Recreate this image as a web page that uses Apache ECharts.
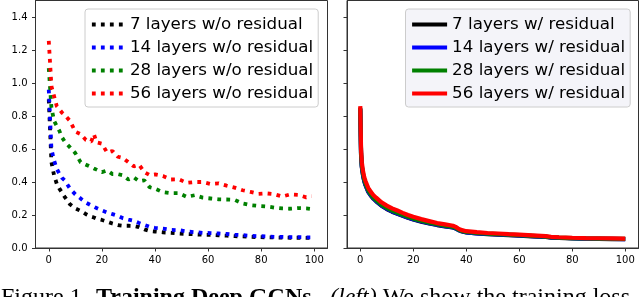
<!DOCTYPE html>
<html>
<head>
<meta charset="utf-8">
<script src="https://cdn.jsdelivr.net/npm/echarts@6/dist/echarts.min.js"></script>
<style>html,body{margin:0;padding:0;background:#fff;}#c{width:640px;height:297px;}</style>
</head>
<body>
<div id="c"></div>
<script>
// ---- Data ----
const xTicks = [0, 20, 40, 60, 80, 100];
const yTicks = [0.0, 0.2, 0.4, 0.6, 0.8, 1.0, 1.2, 1.4];

// Left panel (w/o residual), epochs
const leftEpochs = [0,1,2,3,4,5,6,8,10,12,14,16,17,18,20,22,24,26,28,30,32,34,36,38,40,43,46,49,52,55,58,61,64,67,70,73,76,79,82,85,88,91,94,97,99];
const noRes7  = [0.90,0.52,0.44,0.39,0.36,0.335,0.31,0.265,0.24,0.225,0.205,0.19,0.185,0.178,0.17,0.16,0.148,0.139,0.135,0.135,0.134,0.127,0.113,0.103,0.10,0.095,0.092,0.088,0.085,0.083,0.08,0.08,0.077,0.075,0.072,0.07,0.068,0.066,0.065,0.064,0.063,0.062,0.062,0.061,0.061];
const noRes14 = [0.96,0.60,0.53,0.48,0.45,0.425,0.41,0.36,0.325,0.30,0.275,0.258,0.25,0.242,0.228,0.215,0.205,0.195,0.18,0.172,0.165,0.152,0.14,0.128,0.122,0.118,0.11,0.108,0.10,0.096,0.092,0.09,0.088,0.085,0.08,0.078,0.074,0.072,0.07,0.068,0.067,0.066,0.066,0.065,0.065];
const noRes28 = [1.09,0.85,0.77,0.74,0.71,0.67,0.645,0.61,0.575,0.52,0.505,0.49,0.482,0.475,0.46,0.47,0.448,0.448,0.44,0.415,0.428,0.405,0.41,0.368,0.36,0.338,0.332,0.332,0.31,0.32,0.305,0.30,0.295,0.294,0.292,0.27,0.26,0.255,0.252,0.245,0.24,0.238,0.242,0.24,0.236];
const noRes56 = [1.255,0.98,0.92,0.86,0.84,0.82,0.806,0.77,0.705,0.69,0.655,0.645,0.69,0.64,0.632,0.578,0.588,0.553,0.545,0.52,0.495,0.505,0.46,0.442,0.446,0.436,0.415,0.416,0.395,0.40,0.40,0.388,0.392,0.378,0.366,0.35,0.34,0.328,0.331,0.326,0.312,0.325,0.322,0.307,0.315];

// Right panel (w/ residual), epochs
const rightEpochs = [0,0.3,0.6,1,1.5,2,3,4,5,6,8,10,12,14,16,18,20,23,26,29,32,35,36,37,38,40,44,48,52,56,60,65,70,72,75,80,85,90,95,100];
const res7  = [0.84,0.565,0.49,0.445,0.405,0.38,0.341,0.317,0.298,0.283,0.256,0.236,0.22,0.207,0.195,0.183,0.173,0.16,0.149,0.139,0.131,0.124,0.118,0.109,0.102,0.094,0.088,0.084,0.081,0.078,0.075,0.071,0.067,0.063,0.061,0.058,0.056,0.055,0.054,0.053];
const res14 = [0.845,0.57,0.492,0.447,0.407,0.382,0.343,0.319,0.3,0.285,0.258,0.238,0.222,0.209,0.197,0.185,0.175,0.162,0.151,0.141,0.133,0.125,0.119,0.11,0.103,0.095,0.089,0.085,0.082,0.079,0.076,0.072,0.068,0.064,0.062,0.059,0.057,0.056,0.055,0.054];
const res28 = [0.85,0.58,0.50,0.455,0.415,0.39,0.35,0.325,0.305,0.29,0.263,0.243,0.227,0.214,0.201,0.189,0.178,0.165,0.154,0.144,0.136,0.128,0.122,0.112,0.105,0.097,0.091,0.087,0.084,0.081,0.078,0.074,0.069,0.065,0.063,0.06,0.058,0.057,0.056,0.055];
const res56 = [0.86,0.60,0.52,0.47,0.43,0.405,0.365,0.34,0.32,0.305,0.277,0.257,0.24,0.227,0.213,0.2,0.189,0.175,0.163,0.151,0.143,0.135,0.128,0.118,0.11,0.102,0.096,0.091,0.088,0.084,0.081,0.077,0.072,0.068,0.065,0.062,0.06,0.059,0.058,0.057];

const leftNames  = ['7 layers w/o residual','14 layers w/o residual','28 layers w/o residual','56 layers w/o residual'];
const rightNames = ['7 layers w/ residual','14 layers w/ residual','28 layers w/ residual','56 layers w/ residual'];
const colors = ['#000000','#0000ff','#008000','#ff0000'];

// ---- Chart ----
const FONT = 'DejaVu Sans';
const chart = echarts.init(document.getElementById('c'), null, {renderer: 'canvas'});
const pair = (xs, ys) => xs.map((x, i) => [x, ys[i]]);

function xAxis(gi) {
  return {
    type: 'value', gridIndex: gi, min: -5, max: 105,
    axisLine: {show: true, onZero: false, lineStyle: {color: '#333', width: 1}},
    axisTick: {show: true, length: 3.5, customValues: xTicks, lineStyle: {color: '#333'}},
    axisLabel: {show: true, customValues: xTicks, margin: 7, fontSize: 10, fontFamily: FONT, color: '#000'},
    splitLine: {show: false}
  };
}
function yAxis(gi, showLabels) {
  return {
    type: 'value', gridIndex: gi, min: 0, max: 1.5,
    axisLine: {show: true, onZero: false, lineStyle: {color: '#333', width: 1}},
    axisTick: {show: true, length: 3.5, customValues: yTicks, lineStyle: {color: '#333'}},
    axisLabel: {show: showLabels, customValues: yTicks, margin: 8, fontSize: 10, fontFamily: FONT, color: '#000',
      formatter: v => v.toFixed(1)},
    splitLine: {show: false}
  };
}

const leftVals = [noRes7, noRes14, noRes28, noRes56];
const rightVals = [res7, res14, res28, res56];
const series = [];
leftVals.forEach((vals, i) => series.push({
  name: leftNames[i], type: 'line', xAxisIndex: 0, yAxisIndex: 0,
  data: pair(leftEpochs, vals), symbol: 'none', showSymbol: false, color: colors[i],
  lineStyle: {color: colors[i], width: 3.8, type: [3.8, 5.2], cap: 'butt'}, silent: true
}));
rightVals.forEach((vals, i) => series.push({
  name: rightNames[i], type: 'line', xAxisIndex: 1, yAxisIndex: 1,
  data: pair(rightEpochs, vals), symbol: 'none', showSymbol: false, color: colors[i],
  lineStyle: {color: colors[i], width: 4.2}, silent: true
}));

const legendBase = {
  orient: 'vertical', selectedMode: false, itemHeight: 12, itemGap: 6,
  borderColor: '#cccccc', borderWidth: 1, borderRadius: 3,
  itemStyle: {color: 'rgba(0,0,0,0)', borderWidth: 0, opacity: 0},
  textStyle: {fontFamily: FONT, fontSize: 16.7, color: '#000'}
};

chart.setOption({
  animation: false,
  textStyle: {fontFamily: FONT},
  grid: [
    {left: 35.5, top: 0.5, width: 292, height: 247.5, show: true, borderColor: '#333', borderWidth: 1, containLabel: false},
    {left: 347, top: 0.5, width: 291.5, height: 247.5, show: true, borderColor: '#333', borderWidth: 1, containLabel: false}
  ],
  xAxis: [xAxis(0), xAxis(1)],
  yAxis: [yAxis(0, true), yAxis(1, false)],
  legend: [
    Object.assign({}, legendBase, {data: leftNames, left: 85, top: 9, padding: [7, 5, 5, 5], itemWidth: 33, itemTextGap: 14,
      lineStyle: {width: 3.8, type: [3.8, 5.2], cap: 'butt'}, backgroundColor: 'rgba(255,255,255,0.85)'}),
    Object.assign({}, legendBase, {data: rightNames, left: 405.5, top: 9, padding: [7, 5, 5, 4.5], itemWidth: 35, itemTextGap: 11.5,
      lineStyle: {width: 4.2, type: 'solid'}, backgroundColor: 'rgba(243,243,248,0.9)'})
  ],
  series: series,
  graphic: [
    {type: 'text', left: 1, top: 286, style: {text: 'Figure 1.', font: '24px "Liberation Serif"', fill: '#000'}},
    {type: 'text', left: 96, top: 286, style: {text: 'Training Deep GCNs.', font: 'bold 24px "Liberation Serif"', fill: '#000'}},
    {type: 'text', left: 330, top: 286, style: {
      text: '{i|(left)}{r| We show the training loss}',
      rich: {i: {font: 'italic 24px "Liberation Serif"', fill: '#000'}, r: {font: '24px "Liberation Serif"', fill: '#000'}}
    }}
  ]
});
</script>
</body>
</html>
